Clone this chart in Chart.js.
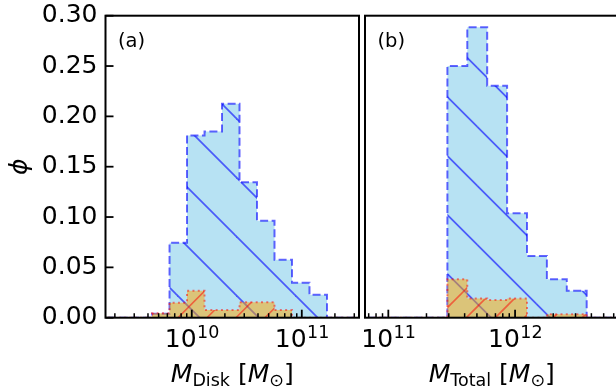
<!DOCTYPE html>
<html>
<head>
<meta charset="utf-8">
<script src="https://cdn.jsdelivr.net/npm/chart.js@4"></script>
<style>
  html, body { margin: 0; padding: 0; background: #fff; overflow: hidden; width: 616px; height: 392px; }
  canvas { position: absolute; top: 0; }
</style>
</head>
<body>
<canvas id="diskChart" width="362" height="392" style="left:0"></canvas>
<canvas id="totalChart" width="262" height="392" style="left:360px"></canvas>
<script>
// bin edges are log10(M / Msun)
const diskEdges = [9.24, 9.48, 9.639, 9.798, 9.957, 10.116, 10.275, 10.434, 10.593, 10.752, 10.911, 11.07, 11.229, 11.49]
const diskAll = [0, 0, 0.004, 0.0745, 0.181, 0.185, 0.2126, 0.1345, 0.0964, 0.0576, 0.0348, 0.0228, 0]
const diskSub = [0, 0, 0.0044, 0.0149, 0.0268, 0.0077, 0.0077, 0.0153, 0.0153, 0.0077, 0, 0, 0]

const totalEdges = [10.84, 11.466, 11.623, 11.78, 11.937, 12.094, 12.251, 12.408, 12.565, 12.8]
const totalAll = [0, 0.25, 0.2885, 0.2305, 0.1037, 0.0613, 0.0381, 0.0268, 0]
const totalSub = [0, 0.0381, 0.019, 0.0175, 0.019, 0, 0.0034, 0.0034, 0]

const diskRange = [9.216, 11.52]
const totalRange = [10.816, 12.816]

const diskTicks = [1e10, 1e11]
const diskTickLabels = ['10^10', '10^11']
const totalTicks = [1e11, 1e12]
const totalTickLabels = ['10^11', '10^12']

const phiTicks = [0, 0.05, 0.1, 0.15, 0.2, 0.25, 0.3]

const FONT = '"DejaVu Sans", sans-serif'

// histogram outline as step points
const toSteps = (edges, vals) => {
    const pts = vals.map((v, i) => ({ x: Math.pow(10, edges[i]), y: v }))
    pts.push({ x: Math.pow(10, edges[edges.length - 1]), y: 0 })
    return pts
}

// fill + hatch lines in one repeating tile
const hatch = (size, bg, color, lw, dir, offset) => {
    const c = document.createElement('canvas')
    c.width = size
    c.height = size
    const g = c.getContext('2d')
    g.fillStyle = bg
    g.fillRect(0, 0, size, size)
    g.strokeStyle = color
    g.lineWidth = lw
    for (let k = -2; k <= 2; k++) {
        const o = offset + k * size
        g.beginPath()
        if (dir === '\\') {
            g.moveTo(o - 4, -4)
            g.lineTo(o + size + 4, size + 4)
        } else {
            g.moveTo(o + 4, -4)
            g.lineTo(o - size - 4, size + 4)
        }
        g.stroke()
    }
    return g.createPattern(c, 'repeat')
}

const panelPlugin = {
    id: 'panel',
    afterDatasetsDraw(chart, args, opts) {
        const { ctx, chartArea: a } = chart
        const xs = chart.scales.x
        const ys = chart.scales.y
        ctx.save()
        ctx.strokeStyle = '#000'

        // minor x ticks, inward
        ctx.lineWidth = 1.5
        const lo = xs.min, hi = xs.max
        for (let n = Math.floor(Math.log10(lo)); n <= Math.ceil(Math.log10(hi)); n++) {
            for (let k = 2; k <= 9; k++) {
                const v = k * Math.pow(10, n)
                if (v <= lo || v >= hi) continue
                const px = xs.getPixelForValue(v)
                ctx.beginPath()
                ctx.moveTo(px, a.bottom)
                ctx.lineTo(px, a.bottom - 4.5)
                ctx.stroke()
            }
        }
        // major x ticks
        ctx.lineWidth = 1.8
        opts.majors.forEach((v) => {
            const px = xs.getPixelForValue(v)
            ctx.beginPath()
            ctx.moveTo(px, a.bottom)
            ctx.lineTo(px, a.bottom - 8)
            ctx.stroke()
        })
        // y ticks on the left panel only
        if (opts.yTicks) {
            phiTicks.forEach((v) => {
                const py = ys.getPixelForValue(v)
                ctx.beginPath()
                ctx.moveTo(a.left, py)
                ctx.lineTo(a.left + 8, py)
                ctx.stroke()
            })
        }

        // frame
        ctx.lineWidth = 2
        ctx.strokeRect(a.left, a.top, a.right - a.left, a.bottom - a.top)

        ctx.fillStyle = '#000'
        ctx.textBaseline = 'alphabetic'
        ctx.textAlign = 'left'

        // x tick labels, 10 with a raised exponent
        opts.majors.forEach((v, i) => {
            const [base, exp] = opts.tickLabels[i].split('^')
            ctx.font = '25px ' + FONT
            const wb = ctx.measureText(base).width
            ctx.font = '17.5px ' + FONT
            const we = ctx.measureText(exp).width
            const x0 = xs.getPixelForValue(v) - (wb + we) / 2
            ctx.font = '25px ' + FONT
            ctx.fillText(base, x0, 346.5)
            ctx.font = '17.5px ' + FONT
            ctx.fillText(exp, x0 + wb + 0.5, 337.5)
        })

        // panel label
        ctx.font = '19.5px ' + FONT
        ctx.fillText(opts.label, a.left + 12.5, 46.5)

        // x axis title with italic M and subscripts
        const fonts = {
            n: '25px ' + FONT,
            i: 'italic 25px ' + FONT,
            s: '17.5px ' + FONT
        }
        let w = 0
        opts.title.forEach(([t, f]) => {
            ctx.font = fonts[f]
            w += ctx.measureText(t).width
        })
        let x = (a.left + a.right) / 2 - w / 2
        opts.title.forEach(([t, f]) => {
            ctx.font = fonts[f]
            ctx.fillText(t, x, f === 's' ? 386 : 381.7)
            x += ctx.measureText(t).width
        })
        ctx.restore()
    }
}

const makePanel = (id, cfg) => {
    const blue = hatch(59, 'rgba(135,206,235,0.6)', 'rgba(0,0,255,0.6)', 1.8, '\\', cfg.blueOffset)
    const orange = hatch(29, 'rgba(255,165,0,0.5)', 'rgba(255,0,0,0.5)', 1.6, '/', cfg.orangeOffset)

    return new Chart(document.getElementById(id), {
        type: 'line',
        data: {
            datasets: [
                {
                    label: 'all',
                    data: toSteps(cfg.edges, cfg.all),
                    stepped: true,
                    fill: 'origin',
                    backgroundColor: blue,
                    borderColor: 'rgba(0,0,255,0.6)',
                    borderWidth: 2,
                    borderDash: [8, 3.5],
                    pointRadius: 0,
                    order: 2
                },
                {
                    label: 'sub',
                    data: toSteps(cfg.edges, cfg.sub),
                    stepped: true,
                    fill: 'origin',
                    backgroundColor: orange,
                    borderColor: 'rgba(255,0,0,0.5)',
                    borderWidth: 2,
                    borderDash: [2, 3.3],
                    pointRadius: 0,
                    order: 1
                }
            ]
        },
        options: {
            responsive: false,
            animation: false,
            devicePixelRatio: 1,
            layout: {
                autoPadding: false,
                padding: { left: cfg.padLeft, right: cfg.padRight, top: 15.7, bottom: 0 }
            },
            scales: {
                x: {
                    type: 'logarithmic',
                    min: Math.pow(10, cfg.range[0]),
                    max: Math.pow(10, cfg.range[1]),
                    afterBuildTicks: (s) => {
                        s.ticks = cfg.ticks.map((v) => ({ value: v }))
                    },
                    afterFit: (s) => {
                        s.height = 392 - 317.7
                        s.paddingLeft = 0
                        s.paddingRight = 0
                    },
                    grid: { display: false, drawTicks: false },
                    border: { display: false },
                    ticks: { display: false }
                },
                y: {
                    display: cfg.showY,
                    min: 0,
                    max: 0.3,
                    afterBuildTicks: (s) => {
                        s.ticks = phiTicks.map((v) => ({ value: v }))
                    },
                    afterFit: (s) => {
                        s.width = cfg.showY ? 105.5 : 0
                        s.paddingTop = 0
                        s.paddingBottom = 0
                    },
                    grid: { display: false, drawTicks: false },
                    border: { display: false },
                    ticks: {
                        padding: 8,
                        color: '#000',
                        font: { family: FONT, size: 25 },
                        callback: (v) => v.toFixed(2)
                    },
                    title: {
                        display: true,
                        text: 'ϕ',
                        color: '#000',
                        padding: { top: 5, bottom: 0 },
                        font: { family: FONT, size: 25, style: 'italic' }
                    }
                }
            },
            plugins: {
                legend: { display: false },
                tooltip: { enabled: false },
                panel: {
                    label: cfg.label,
                    title: cfg.title,
                    majors: cfg.ticks,
                    tickLabels: cfg.tickLabels,
                    yTicks: cfg.showY
                }
            }
        },
        plugins: [panelPlugin]
    })
}

makePanel('diskChart', {
    edges: diskEdges,
    all: diskAll,
    sub: diskSub,
    range: diskRange,
    ticks: diskTicks,
    tickLabels: diskTickLabels,
    showY: true,
    padLeft: 0,
    padRight: 3,
    blueOffset: 0,
    orangeOffset: 2.7,
    label: '(a)',
    title: [['M', 'i'], ['Disk', 's'], [' [', 'n'], ['M', 'i'], ['⊙', 's'], [']', 'n']]
})

makePanel('totalChart', {
    edges: totalEdges,
    all: totalAll,
    sub: totalSub,
    range: totalRange,
    ticks: totalTicks,
    tickLabels: totalTickLabels,
    showY: false,
    padLeft: 5,
    padRight: 3.5,
    blueOffset: 49.5,
    orangeOffset: 18,
    label: '(b)',
    title: [['M', 'i'], ['Total', 's'], [' [', 'n'], ['M', 'i'], ['⊙', 's'], [']', 'n']]
})
</script>
</body>
</html>
